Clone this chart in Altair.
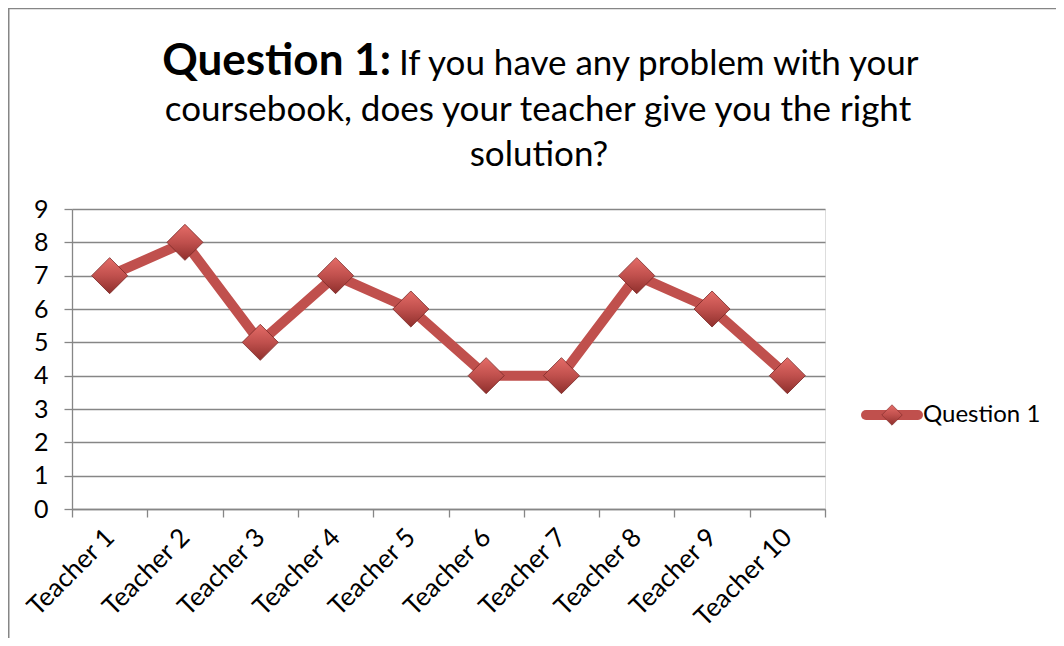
import altair as alt
import pandas as pd

teachers = ["Teacher 1", "Teacher 2", "Teacher 3", "Teacher 4", "Teacher 5",
            "Teacher 6", "Teacher 7", "Teacher 8", "Teacher 9", "Teacher 10"]
values = [7, 8, 5, 7, 6, 4, 4, 7, 6, 4]
series_name = "Question 1"
title_bold = "Question 1:"
title_line1 = "If you have any problem with your"
title_line2 = "coursebook, does your teacher give you the right"
title_line3 = "solution?"

df = pd.DataFrame({"teacher": teachers, "value": values})

RED = "#C0504D"
GRID = "#868686"
FONT = "Lato"

diamond_fill = alt.LinearGradient(
    gradient="linear", x1=0, y1=0, x2=0, y2=1,
    stops=[alt.GradientStop(color="#E56C68", offset=0),
           alt.GradientStop(color="#C0504D", offset=0.5),
           alt.GradientStop(color="#8E2F2C", offset=1)])

x_enc = alt.X("teacher:N", sort=teachers,
              scale=alt.Scale(type="band", paddingInner=0, paddingOuter=0),
              axis=alt.Axis(title=None, labelAngle=-45, labelAlign="right",
                            labelBaseline="middle", tickBand="extent",
                            grid=False, domainColor=GRID, tickColor=GRID,
                            domainWidth=1.3, tickWidth=1.3,
                            tickSize=8, labelFontSize=26, labelFont=FONT,
                            labelColor="black", labelPadding=16))
y_enc = alt.Y("value:Q", scale=alt.Scale(domain=[0, 9], nice=False),
              axis=alt.Axis(title=None, values=list(range(10)), grid=True,
                            gridColor=GRID, gridWidth=1.3, domainColor=GRID,
                            domainWidth=1.3, tickWidth=1.3,
                            tickColor=GRID, tickSize=8, labelFontSize=25,
                            labelFont=FONT, labelColor="black", labelPadding=16))

base = alt.Chart(df)
line = base.mark_line(color=RED, strokeWidth=10, strokeJoin="round").encode(x=x_enc, y=y_enc)
points = base.mark_point(shape="diamond", filled=True, size=1300, fill=diamond_fill,
                         stroke="#7A2826", strokeWidth=0.8, opacity=1).encode(x=x_enc, y=y_enc)

# title
tdf = pd.DataFrame({"t": [0]})
tb = alt.Chart(tdf)
t1a = tb.mark_text(text=title_bold, font=FONT, fontSize=44, fontWeight="bold",
                   align="right", baseline="alphabetic", color="black").encode(
    x=alt.value(319), y=alt.value(-134))
t1b = tb.mark_text(text=title_line1, font=FONT, fontSize=35,
                   align="left", baseline="alphabetic", color="black").encode(
    x=alt.value(327), y=alt.value(-134))
t2 = tb.mark_text(text=title_line2, font=FONT, fontSize=35,
                  align="center", baseline="alphabetic", color="black").encode(
    x=alt.value(466), y=alt.value(-88))
t3 = tb.mark_text(text=title_line3, font=FONT, fontSize=35,
                  align="center", baseline="alphabetic", color="black").encode(
    x=alt.value(467), y=alt.value(-43))

# legend
ldf = pd.DataFrame({"name": [series_name]})
lb = alt.Chart(ldf)
leg_line = lb.mark_rule(color=RED, strokeWidth=10, strokeCap="round").encode(
    x=alt.value(794), x2=alt.value(846), y=alt.value(206))
leg_pt = lb.mark_point(shape="diamond", filled=True, size=420, fill=diamond_fill,
                       stroke="#7A2826", strokeWidth=0.6, opacity=1).encode(
    x=alt.value(820), y=alt.value(206))
leg_txt = lb.mark_text(font=FONT, fontSize=24, align="left", baseline="middle",
                       color="black").encode(
    text="name:N", x=alt.value(851), y=alt.value(206))

# frame border
border_top = tb.mark_rule(color=GRID, strokeWidth=1.5).encode(
    x=alt.value(-63), x2=alt.value(1000), y=alt.value(-200.5))
border_left = tb.mark_rule(color=GRID, strokeWidth=1.5).encode(
    x=alt.value(-63.25), y=alt.value(-201), y2=alt.value(440))

chart = alt.layer(border_top, border_left, line, points, t1a, t1b, t2, t3,
                  leg_line, leg_pt, leg_txt).properties(
    width=753, height=300,
    autosize=alt.AutoSizeParams(type="none"),
    padding={"left": 64, "top": 201, "right": 231, "bottom": 129},
).configure_view(stroke=None).configure(background="white")

chart.save("out.html", embed_options={"renderer": "svg", "actions": False})
